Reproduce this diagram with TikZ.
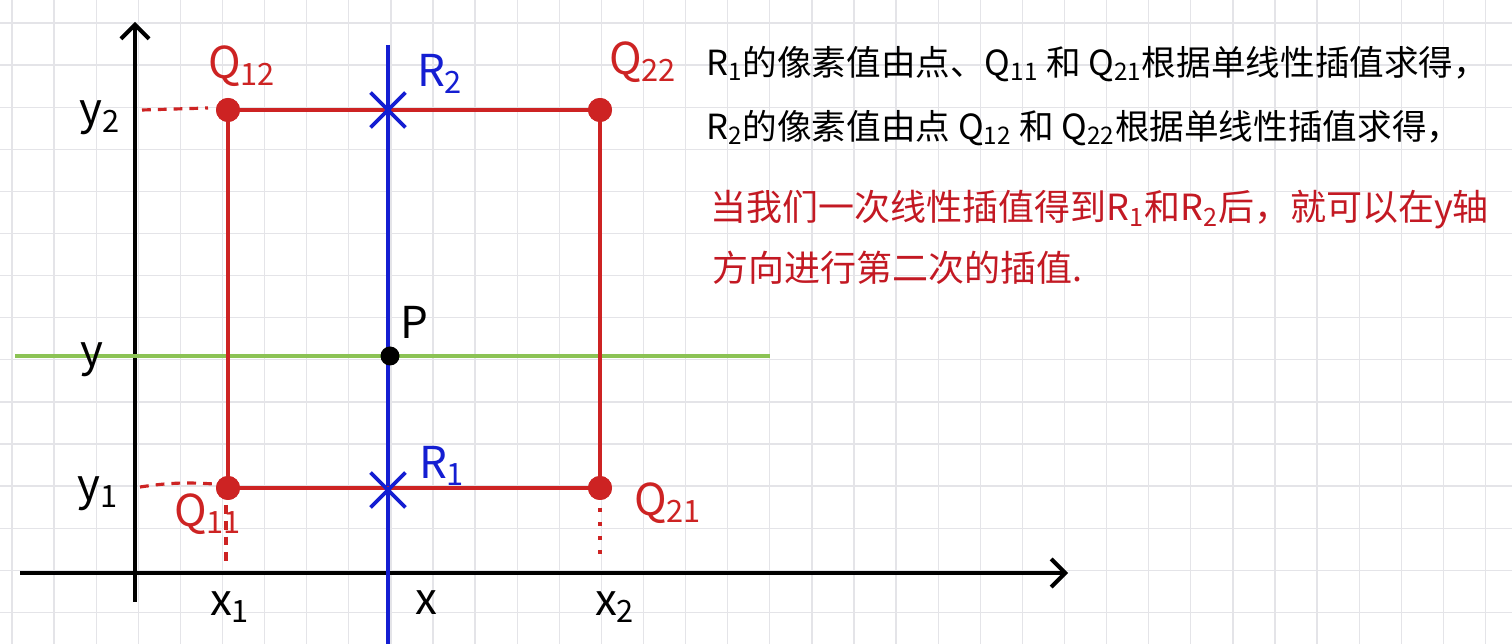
\documentclass[tikz,border=0pt]{standalone}
\usepackage{fontspec}
\setmainfont{Noto Sans CJK SC}
\usetikzlibrary{arrows.meta,shapes.misc}
\definecolor{qred}{RGB}{205,35,35}
\definecolor{tred}{RGB}{195,25,35}
\definecolor{qblue}{RGB}{20,30,210}
\definecolor{qgreen}{RGB}{140,195,85}
\definecolor{gridc}{RGB}{228,228,232}
\newcommand{\lsub}[1]{\textsubscript{#1}}
\begin{document}
\begin{tikzpicture}[x=0.02cm,y=-0.02cm,
  gridline/.style={draw=gridc,line width=0.7pt},
  axisline/.style={draw=black,line width=2.3pt,-{Straight Barb[length=8pt,width=16pt,line width=2.3pt]}},
  redline/.style={draw=qred,line width=2.2pt},
  reddash/.style={draw=qred,line width=1.8pt,dash pattern=on 5pt off 4pt},
  reddot/.style={draw=qred,line width=2.2pt,dash pattern=on 2pt off 6pt},
  blueline/.style={draw=qblue,line width=1.8pt},
  greenline/.style={draw=qgreen,line width=1.8pt},
  qdot/.style={circle,fill=qred,inner sep=0pt,minimum size=0.48cm},
  pdot/.style={circle,fill=black,inner sep=0pt,minimum size=0.38cm},
  rcross/.style={cross out,draw=qblue,line width=2.2pt,inner sep=0pt,minimum size=0.62cm},
  lab/.style={inner sep=0pt,font=\fontsize{25}{28}\selectfont},
  redlab/.style={lab,text=qred},
  bluelab/.style={lab,text=qblue},
  txt/.style={anchor=west,inner sep=0pt,font=\fontsize{20.5}{24}\selectfont},
  txtb/.style={txt,font=\fontsize{19.7}{24}\selectfont}
]
\useasboundingbox (0,0) rectangle (1512,644);
\fill[white] (0,0) rectangle (1512,644);
% grid
\foreach \k in {0,...,35} {\draw[gridline] (12+42.1*\k,0) -- (12+42.1*\k,644);}
\foreach \k in {0,...,14} {\draw[gridline] (0,23+42.1*\k) -- (1512,23+42.1*\k);}
% coordinates
\coordinate (yb) at (135,602);
\coordinate (yt) at (135,22);
\coordinate (xl) at (20,573);
\coordinate (xr) at (1068,573);
\coordinate (gl) at (15,356);
\coordinate (gr) at (770,356);
\coordinate (bt) at (388,45);
\coordinate (bb) at (388,644);
\coordinate (d2a) at (142,110);
\coordinate (d2b) at (208,108);
\coordinate (d1a) at (140,487);
\coordinate (d1b) at (214,484);
\coordinate (d1c) at (226,505);
\coordinate (d1d) at (226,562);
\coordinate (d3a) at (600,508);
\coordinate (d3b) at (600,560);
% axes
\draw[axisline] (yb) -- (yt);
\draw[axisline] (xl) -- (xr);
% green and blue lines
\draw[greenline] (gl) -- (gr);
\draw[blueline] (bt) -- (bb);
% points
\node[qdot] (q12) at (228,110) {};
\node[qdot] (q22) at (600,110) {};
\node[qdot] (q11) at (228,488) {};
\node[qdot] (q21) at (600,488) {};
% rectangle
\draw[redline] (q12.center) -- (q22.center) -- (q21.center) -- (q11.center) -- cycle;
\node[qdot] at (q12) {};
\node[qdot] at (q22) {};
\node[qdot] at (q11) {};
\node[qdot] at (q21) {};
\node[rcross] (r2) at (388,110) {};
\node[rcross] (r1) at (388,490) {};
\node[pdot] (p) at (390,356) {};
% dashed guides
\draw[reddash] (d2a) -- (d2b);
\draw[reddash] (d1a) to[bend left=6] (d1b);
\draw[reddash] (d1c) -- (d1d);
\draw[reddot] (d3a) -- (d3b);
% labels
\node[redlab] (lq12) at (242,66) {Q\lsub{12}};
\node[redlab] (lq22) at (643,62) {Q\lsub{22}};
\node[redlab] (lq11) at (208,514) {Q\lsub{11}};
\node[redlab] (lq21) at (668,503) {Q\lsub{21}};
\node[bluelab] (lr2) at (440,74) {R\lsub{2}};
\node[bluelab] (lr1) at (442,466) {R\lsub{1}};
\node[lab] (lp) at (414,322) {P};
\node[lab] (ly2) at (100,118) {y\lsub{2}};
\node[lab] (ly) at (92,360) {y};
\node[lab] (ly1) at (98,494) {y\lsub{1}};
\node[lab] (lx1) at (230,607) {x\lsub{1}};
\node[lab] (lx) at (426,603) {x};
\node[lab] (lx2) at (615,607) {x\lsub{2}};
% text
\node[txtb] (t1) at (706,64) {R\lsub{1}的像素值由点、Q\lsub{11} 和 Q\lsub{21}根据单线性插值求得，};
\node[txtb] (t2) at (706,128) {R\lsub{2}的像素值由点 Q\lsub{12} 和 Q\lsub{22}根据单线性插值求得，};
\node[txt,text=tred] (t3) at (710,210) {当我们一次线性插值得到R\lsub{1}和R\lsub{2}后，就可以在y轴};
\node[txt,text=tred] (t4) at (712,268) {方向进行第二次的插值.};
\end{tikzpicture}
\end{document}
